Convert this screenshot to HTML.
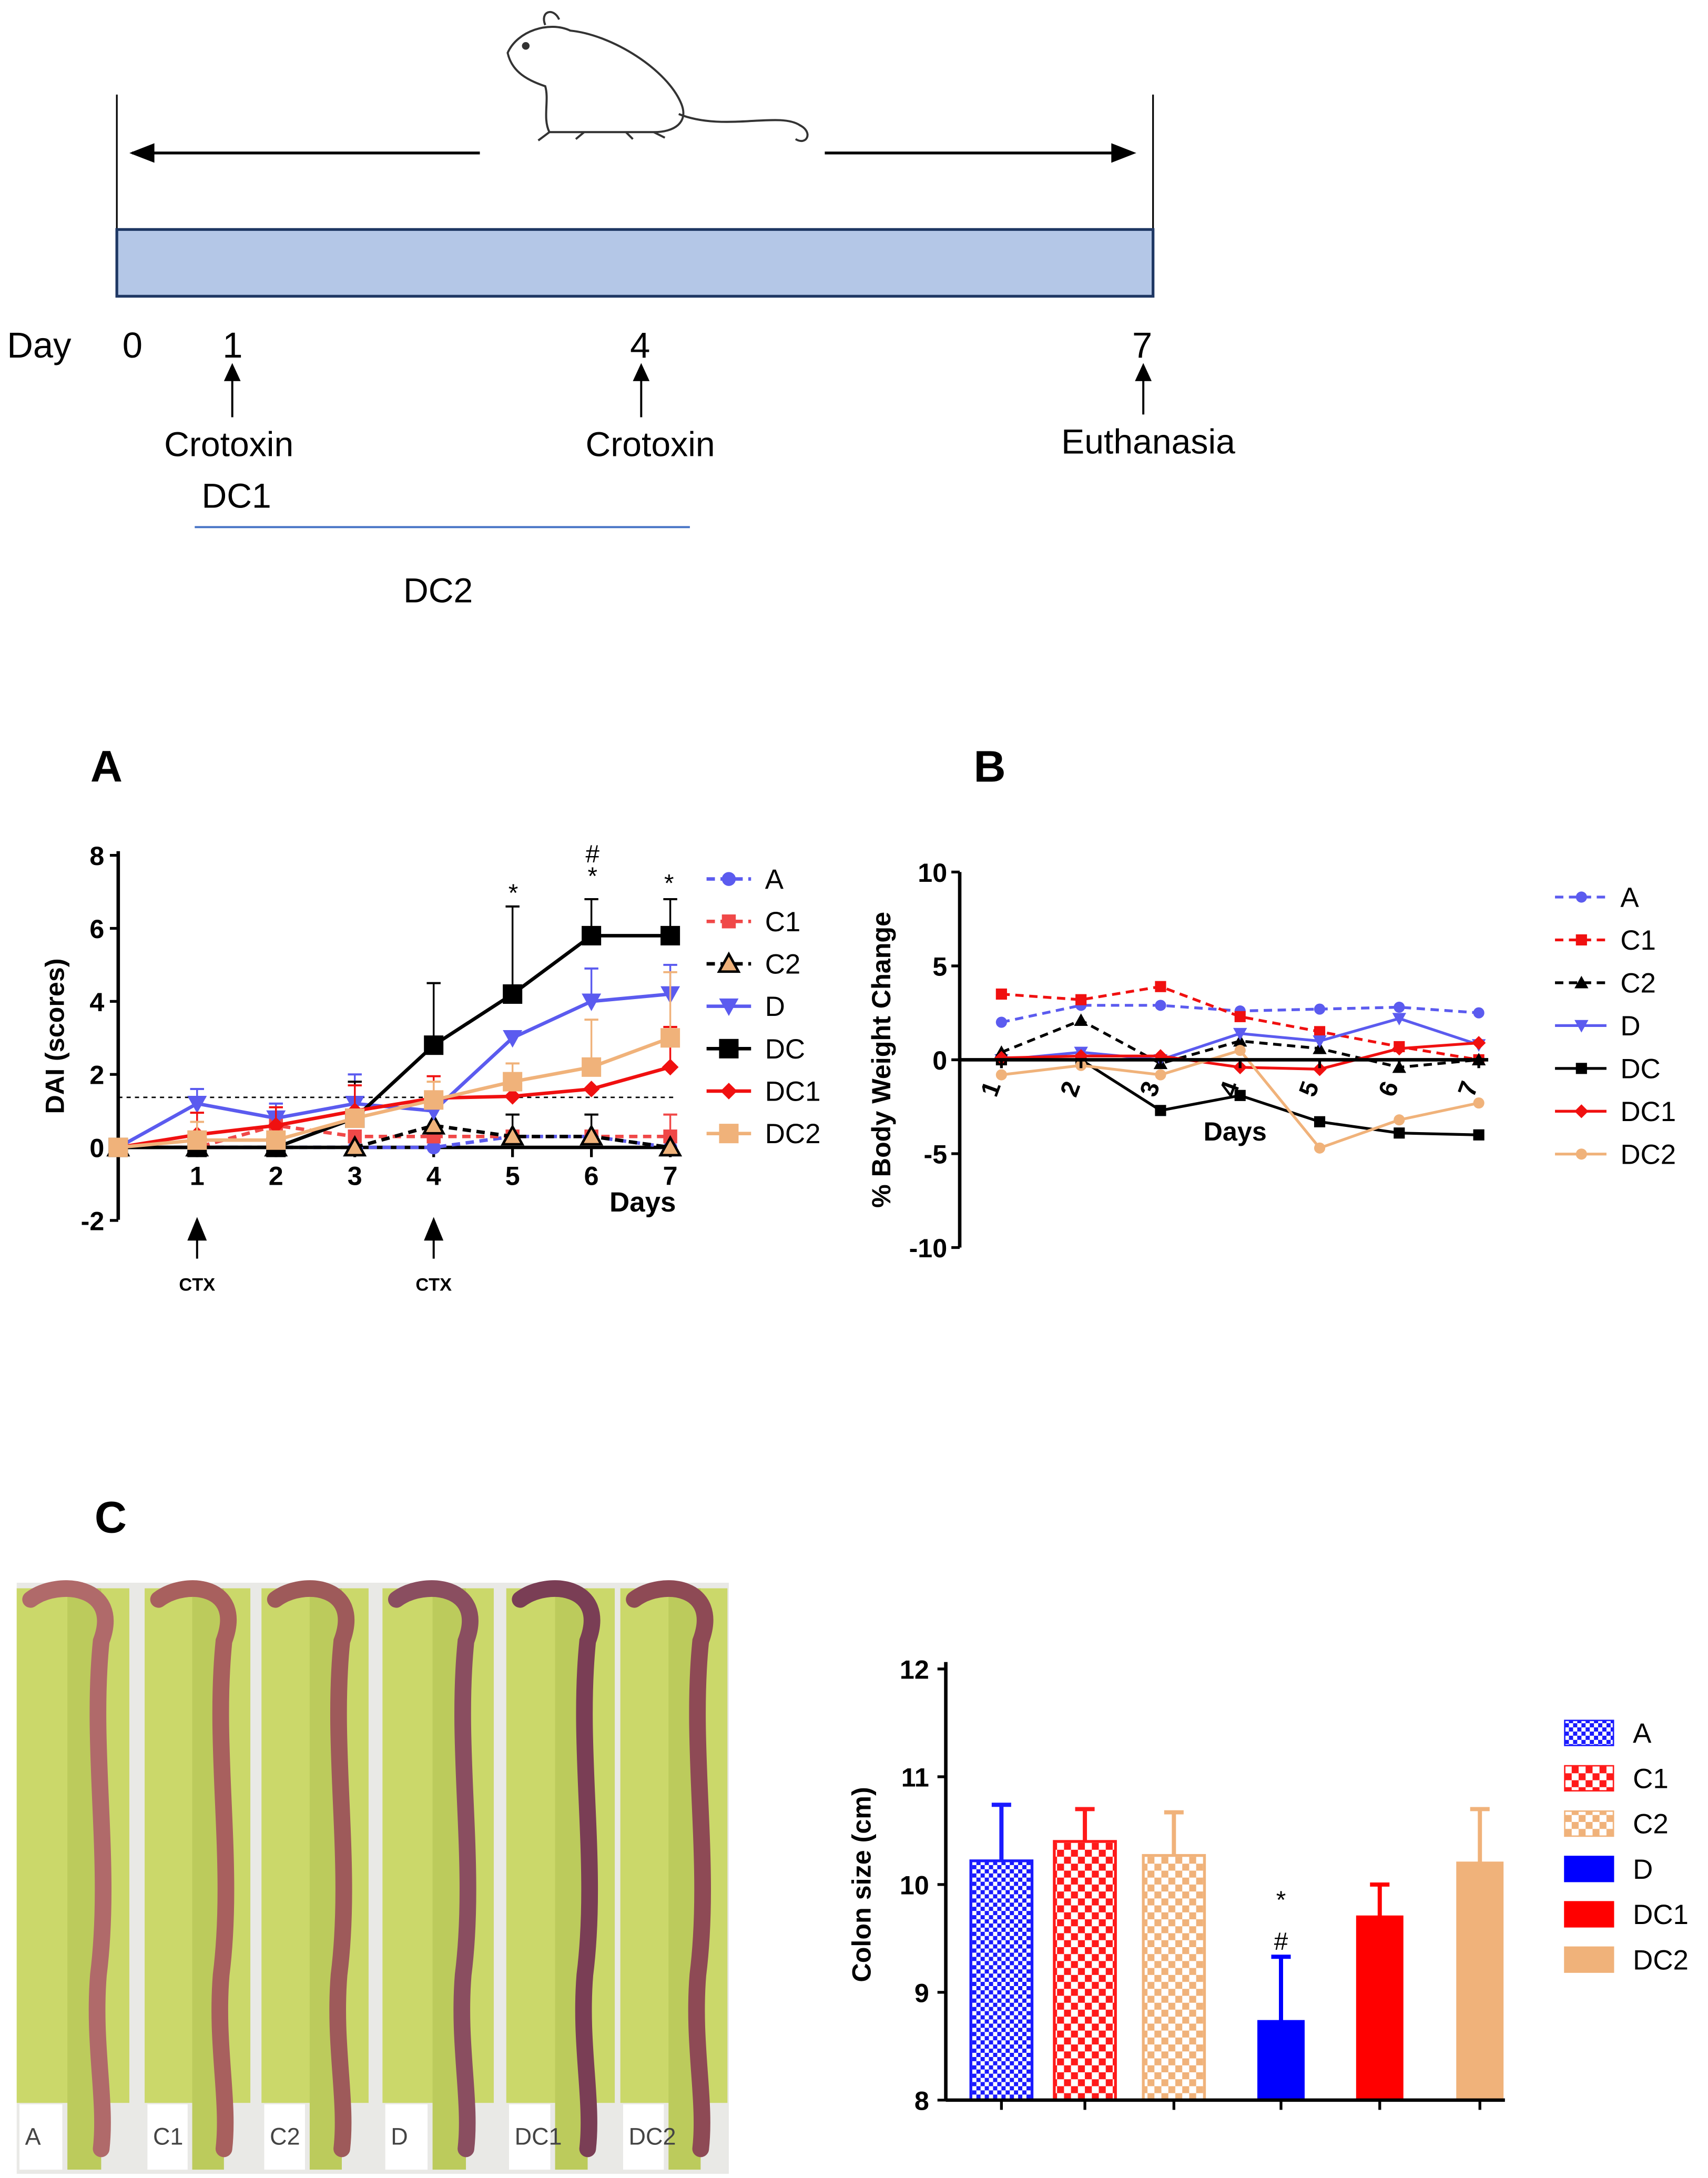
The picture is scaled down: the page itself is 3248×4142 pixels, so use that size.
<!DOCTYPE html>
<html><head><meta charset="utf-8"><style>
html,body{margin:0;padding:0;background:#fff;}
svg{display:block;font-family:"Liberation Sans",Arial,sans-serif;}
</style></head><body>
<svg id="fig" width="3248" height="4142" viewBox="0 0 1228 1566" xmlns="http://www.w3.org/2000/svg">
<defs>
<pattern id="pA" width="6" height="6" patternUnits="userSpaceOnUse"><rect width="6" height="6" fill="#fff"/><rect width="3" height="3" fill="#1a1aff"/><rect x="3" y="3" width="3" height="3" fill="#1a1aff"/></pattern>
<pattern id="pC1" width="10" height="10" patternUnits="userSpaceOnUse"><rect width="10" height="10" fill="#fff"/><rect width="5" height="5" fill="#ff1a1a"/><rect x="5" y="5" width="5" height="5" fill="#ff1a1a"/></pattern>
<pattern id="pC2" width="10" height="10" patternUnits="userSpaceOnUse"><rect width="10" height="10" fill="#fff"/><rect width="5" height="5" fill="#f0b27a"/><rect x="5" y="5" width="5" height="5" fill="#f0b27a"/></pattern>
<marker id="ah" markerWidth="10" markerHeight="10" refX="9" refY="5" orient="auto" markerUnits="userSpaceOnUse"><path d="M0,0 L10,5 L0,10 z" fill="#000"/></marker>
</defs>

<!-- Timeline -->
<g>
<line x1="84" y1="68" x2="84" y2="214" stroke="#000" stroke-width="1.2"/>
<line x1="829" y1="68" x2="829" y2="214" stroke="#000" stroke-width="1.2"/>
<line x1="345" y1="110" x2="95" y2="110" stroke="#000" stroke-width="2"/>
<path d="M93,110 l18,-7 v14z" fill="#000"/>
<line x1="593" y1="110" x2="800" y2="110" stroke="#000" stroke-width="2"/>
<path d="M817,110 l-18,-7 v14z" fill="#000"/>
<rect x="84" y="165" width="745" height="48" fill="#b4c7e7" stroke="#1f3864" stroke-width="2"/>
<g fill="none" stroke="#333" stroke-width="1.5">
<path d="M365,38 C372,22 395,15 410,22 C440,25 480,50 490,75 C495,88 485,95 470,95 L395,95 C390,85 395,72 392,62 C380,58 368,52 365,38z"/>
<path d="M392,18 C388,8 398,5 402,14"/>
<circle cx="378" cy="33" r="2" fill="#333"/>
<path d="M395,95 l-8,6 M420,95 l-6,5 M450,95 l5,5 M470,95 l8,4"/>
<path d="M488,82 C520,95 560,80 575,90 C585,95 580,105 572,100"/>
</g>
<text x="5" y="257" font-size="26" font-family="Liberation Sans,sans-serif">Day</text>
<text x="88" y="257" font-size="26">0</text>
<text x="160" y="257" font-size="26">1</text>
<text x="453" y="257" font-size="26">4</text>
<text x="814" y="257" font-size="26">7</text>
<line x1="167" y1="300" x2="167" y2="272" stroke="#000" stroke-width="1.5"/><path d="M167,261 l-6,13 h12z" fill="#000"/>
<line x1="461" y1="300" x2="461" y2="272" stroke="#000" stroke-width="1.5"/><path d="M461,261 l-6,13 h12z" fill="#000"/>
<line x1="822" y1="298" x2="822" y2="272" stroke="#000" stroke-width="1.5"/><path d="M822,261 l-6,13 h12z" fill="#000"/>
<text x="118" y="328" font-size="25">Crotoxin</text>
<text x="421" y="328" font-size="25">Crotoxin</text>
<text x="763" y="326" font-size="25">Euthanasia</text>
<text x="145" y="365" font-size="25">DC1</text>
<line x1="140" y1="379" x2="496" y2="379" stroke="#4472c4" stroke-width="1.5"/>
<text x="290" y="433" font-size="25">DC2</text>
</g>

<text x="65" y="562" font-size="32" font-weight="bold">A</text>
<text x="700" y="562" font-size="32" font-weight="bold">B</text>
<text x="68" y="1102" font-size="32" font-weight="bold">C</text>

<g id="chartA"></g>
<g id="chartB"></g>
<g id="photo"></g>
<g id="chartC"></g>
</svg>
<script>
const NS="http://www.w3.org/2000/svg";
function mk(parent,tag,attrs,text){const e=document.createElementNS(NS,tag);for(const k in attrs)e.setAttribute(k,attrs[k]);if(text!==undefined)e.textContent=text;parent.appendChild(e);return e;}

// ---------- Chart A data ----------
const daysA=[0,1,2,3,4,5,6,7];
const aA=[0,0,0,0,0,0.3,0.3,0];
const aC1=[0,0,0.6,0.3,0.3,0.3,0.3,0.3];
const aC2=[0,0,0,0,0.6,0.3,0.3,0];
const aD=[0,1.2,0.8,1.2,1.0,3.0,4.0,4.2];
const aDC=[0,0,0,0.8,2.8,4.2,5.8,5.8];
const aDC1=[0,0.35,0.6,1.0,1.35,1.4,1.6,2.2];
const aDC2=[0,0.2,0.2,0.8,1.3,1.8,2.2,3.0];
const errD=[0,0.4,0.4,0.8,0.3,0,0.9,0.8];
const errDC=[0,0,0,1.0,1.7,2.4,1.0,1.0];
const errDC1=[0,0.6,0.5,0.7,0.6,0,0,1.1];
const errDC2=[0,0.5,0,0,0.5,0.5,1.3,1.8];
const errC1=[0,0,0,0,0,0,0,0.6];
const errC2=[0,0,0,0,0,0.6,0.6,0];
const yTicksA=[8,6,4,2,0,-2];
const seriesNamesA=["A","C1","C2","D","DC","DC1","DC2"];

const xA=d=>85+d*56.7, yA=v=>825-v*26.25;
const gA=document.getElementById('chartA');
function marker(g,shape,x,y,s,fill,stroke){
  if(shape==='circle')return mk(g,'circle',{cx:x,cy:y,r:s,fill:fill});
  if(shape==='square')return mk(g,'rect',{x:x-s,y:y-s,width:2*s,height:2*s,fill:fill,stroke:stroke||'none'});
  if(shape==='tri')return mk(g,'path',{d:`M${x},${y-s} L${x+s},${y+s*0.8} L${x-s},${y+s*0.8}z`,fill:fill,stroke:stroke||'none','stroke-width':1.8});
  if(shape==='dtri')return mk(g,'path',{d:`M${x-s},${y-s*0.8} L${x+s},${y-s*0.8} L${x},${y+s}z`,fill:fill});
  if(shape==='diamond')return mk(g,'path',{d:`M${x},${y-s} L${x+s},${y} L${x},${y+s} L${x-s},${y}z`,fill:fill});
}
const stylesA=[
 {data:aA,col:'#5b5bef',dash:'6,4',shape:'circle',s:5,fill:'#5b5bef'},
 {data:aC1,col:'#f04848',dash:'6,4',shape:'square',s:5,fill:'#f04848',err:errC1},
 {data:aC2,col:'#000',dash:'6,4',shape:'tri',s:7,fill:'#f0b27a',stroke:'#000',err:errC2},
 {data:aD,col:'#5b5bef',dash:'',shape:'dtri',s:7,fill:'#5b5bef',err:errD},
 {data:aDC,col:'#000',dash:'',shape:'square',s:7,fill:'#000',err:errDC},
 {data:aDC1,col:'#f01010',dash:'',shape:'diamond',s:6,fill:'#f01010',err:errDC1},
 {data:aDC2,col:'#f0b27a',dash:'',shape:'square',s:7,fill:'#f0b27a',err:errDC2}
];
// axes
mk(gA,'line',{x1:85,y1:612,x2:85,y2:877,stroke:'#000','stroke-width':2.5});
mk(gA,'line',{x1:85,y1:825,x2:482,y2:825,stroke:'#000','stroke-width':2.5});
yTicksA.forEach(v=>{mk(gA,'line',{x1:79,y1:yA(v),x2:85,y2:yA(v),stroke:'#000','stroke-width':2});
 const t=mk(gA,'text',{x:75,y:yA(v)+7,'font-size':19,'font-weight':'bold','text-anchor':'end'},String(v));
 });
daysA.slice(1).forEach(d=>{mk(gA,'line',{x1:xA(d),y1:825,x2:xA(d),y2:832,stroke:'#000','stroke-width':2});
 const t=mk(gA,'text',{x:xA(d),y:852,'font-size':19,'font-weight':'bold','text-anchor':'middle'},String(d));
 });
let t=mk(gA,'text',{x:486,y:871,'font-size':20,'font-weight':'bold','text-anchor':'end'},'Days');

t=mk(gA,'text',{x:0,y:0,'font-size':19,'font-weight':'bold','text-anchor':'middle',transform:'translate(46,745) rotate(-90)'},'DAI (scores)');

mk(gA,'line',{x1:85,y1:789,x2:484,y2:789,stroke:'#000','stroke-width':1,'stroke-dasharray':'3,3'});
// CTX arrows
[1,4].forEach(d=>{mk(gA,'line',{x1:xA(d),y1:905,x2:xA(d),y2:888,stroke:'#000','stroke-width':1.5});
 mk(gA,'path',{d:`M${xA(d)},875 l-7,17 h14z`,fill:'#000'});
 const c=mk(gA,'text',{x:xA(d),y:928,'font-size':13,'font-weight':'bold','text-anchor':'middle'},'CTX');
 });
// series
stylesA.forEach((s,i)=>{
 const g=mk(gA,'g',{});
 
 
 if(s.err){s.data.forEach((v,j)=>{if(s.err[j]>0){mk(g,'line',{x1:xA(daysA[j]),y1:yA(v),x2:xA(daysA[j]),y2:yA(v+s.err[j]),stroke:s.col,'stroke-width':1.3});mk(g,'line',{x1:xA(daysA[j])-5,y1:yA(v+s.err[j]),x2:xA(daysA[j])+5,y2:yA(v+s.err[j]),stroke:s.col,'stroke-width':1.5});}});}
 mk(g,'polyline',{points:s.data.map((v,j)=>xA(daysA[j])+','+yA(v)).join(' '),fill:'none',stroke:s.col,'stroke-width':2.5,'stroke-dasharray':s.dash});
 s.data.forEach((v,j)=>{const m=marker(g,s.shape,xA(daysA[j]),yA(v),s.s,s.fill,s.stroke);});
 // legend
 const ly=632+i*30.5;
 const lg=mk(gA,'g',{});
 
 
 mk(lg,'line',{x1:508,y1:ly,x2:540,y2:ly,stroke:s.col,'stroke-width':2.5,'stroke-dasharray':s.dash});
 marker(lg,s.shape,524,ly,s.s,s.fill,s.stroke);
 mk(lg,'text',{x:550,y:ly+7,'font-size':20},seriesNamesA[i]);
});
[["*",369,648],["#",426,620],["*",426,636],["*",481,641]].forEach(a=>{const s=mk(gA,'text',{x:a[1],y:a[2],'font-size':18,'text-anchor':'middle'},a[0]);});

// ---------- Chart B data ----------
const daysB=[1,2,3,4,5,6,7];
const bA=[2.0,2.9,2.9,2.6,2.7,2.8,2.5];
const bC1=[3.5,3.2,3.9,2.3,1.5,0.7,0];
const bC2=[0.4,2.1,-0.2,1.0,0.6,-0.4,0];
const bD=[0,0.4,0,1.4,1.0,2.2,0.8];
const bDC=[0,0,-2.7,-1.9,-3.3,-3.9,-4.0];
const bDC1=[0.1,0.2,0.2,-0.4,-0.5,0.6,0.9];
const bDC2=[-0.8,-0.3,-0.8,0.5,-4.7,-3.2,-2.3];
const yTicksB=[10,5,0,-5,-10];
const seriesNamesB=["A","C1","C2","D","DC","DC1","DC2"];
const xB=d=>720+(d-1)*57.2, yB=v=>762-v*13.5;
const gB=document.getElementById('chartB');
const stylesB=[
 {data:bA,col:'#5b5bef',dash:'6,4',shape:'circle',s:4,fill:'#5b5bef'},
 {data:bC1,col:'#f01010',dash:'6,4',shape:'square',s:4,fill:'#f01010'},
 {data:bC2,col:'#000',dash:'6,4',shape:'tri',s:5,fill:'#000'},
 {data:bD,col:'#5b5bef',dash:'',shape:'dtri',s:5,fill:'#5b5bef'},
 {data:bDC,col:'#000',dash:'',shape:'square',s:4,fill:'#000'},
 {data:bDC1,col:'#f01010',dash:'',shape:'diamond',s:5,fill:'#f01010'},
 {data:bDC2,col:'#f0b27a',dash:'',shape:'circle',s:4,fill:'#f0b27a'}
];
mk(gB,'line',{x1:690,y1:627,x2:690,y2:897,stroke:'#000','stroke-width':2.5});
yTicksB.forEach(v=>{mk(gB,'line',{x1:684,y1:yB(v),x2:690,y2:yB(v),stroke:'#000','stroke-width':2});
 const s=mk(gB,'text',{x:681,y:yB(v)+7,'font-size':19,'font-weight':'bold','text-anchor':'end'},String(v));
 });
stylesB.forEach((s,i)=>{
 const g=mk(gB,'g',{});
 
 
 mk(g,'polyline',{points:s.data.map((v,j)=>xB(daysB[j])+','+yB(v)).join(' '),fill:'none',stroke:s.col,'stroke-width':2,'stroke-dasharray':s.dash});
 s.data.forEach((v,j)=>{const m=marker(g,s.shape,xB(daysB[j]),yB(v),s.s,s.fill);});
 const ly=645+i*30.8;
 const lg=mk(gB,'g',{});
 
 
 mk(lg,'line',{x1:1118,y1:ly,x2:1155,y2:ly,stroke:s.col,'stroke-width':2,'stroke-dasharray':s.dash});
 marker(lg,s.shape,1137,ly,s.s,s.fill);
 mk(lg,'text',{x:1165,y:ly+7,'font-size':20},seriesNamesB[i]);
});
mk(gB,'line',{x1:690,y1:762,x2:1070,y2:762,stroke:'#000','stroke-width':2.5});
daysB.forEach(d=>{mk(gB,'line',{x1:xB(d),y1:762,x2:xB(d),y2:768,stroke:'#000','stroke-width':2});
 const s=mk(gB,'text',{x:0,y:0,'font-size':18,'font-weight':'bold','text-anchor':'middle',transform:`translate(${xB(d)-2},785) rotate(-70)`},String(d));
 });
t=mk(gB,'text',{x:888,y:820,'font-size':19,'font-weight':'bold','text-anchor':'middle'},'Days');

t=mk(gB,'text',{x:0,y:0,'font-size':19,'font-weight':'bold','text-anchor':'middle',transform:'translate(640,762) rotate(-90)'},'% Body Weight Change');


// ---------- Photo ----------
const gP=document.getElementById('photo');
mk(gP,'rect',{x:12,y:1138,width:512,height:425,fill:'#e9e9e6'});
const strips=[[12,93],[104,180],[188,265],[275,355],[364,442],[446,523]];
const photoLabels=["A","C1","C2","D","DC1","DC2"];
const colonCols=['#b06a6a','#a8605e','#9e5a5a','#8a4e60','#7a3e55','#8e4a55'];
strips.forEach((s,i)=>{
 mk(gP,'rect',{x:s[0],y:1142,width:s[1]-s[0],height:370,fill:'#cbd86a'});
 mk(gP,'rect',{x:s[0]+(s[1]-s[0])*0.45,y:1142,width:(s[1]-s[0])*0.3,height:418,fill:'#bccb5c'});
 const cx=s[0]+(s[1]-s[0])*0.75;
 mk(gP,'path',{d:`M${s[0]+10},1150 C${s[0]+30},1135 ${cx+15},1140 ${cx},1180 C${cx-8},1260 ${cx+8},1340 ${cx-2},1420 C${cx-6},1470 ${cx+4},1510 ${cx},1545`,fill:'none',stroke:colonCols[i],'stroke-width':12,'stroke-linecap':'round'});
 mk(gP,'rect',{x:s[0]+2,y:1513,width:(s[1]-s[0])*0.38,height:47,fill:'#fff'});
 const l=mk(gP,'text',{x:s[0]+6,y:1542,'font-size':17,fill:'#444'},photoLabels[i]);
 
});

// ---------- Chart C data ----------
const groupsC=["A","C1","C2","D","DC1","DC2"];
const colonSize=[10.22,10.4,10.27,8.73,9.7,10.2];
const colonErr=[0.52,0.3,0.4,0.6,0.3,0.5];
const yTicksC=[12,11,10,9,8];
const fillsC=['url(#pA)','url(#pC1)','url(#pC2)','#0000ff','#ff0000','#f0b27a'];
const edgeC=['#1a1aff','#ff1a1a','#f0b27a','#0000ff','#ff0000','#f0b27a'];
const xC=i=>[720,780,844,921,992,1064][i];
const wC=i=>i<3?44:32;
const yC=v=>1510-(v-8)*77.5;
const gC=document.getElementById('chartC');
colonSize.forEach((v,i)=>{
 mk(gC,'line',{x1:xC(i),y1:yC(v),x2:xC(i),y2:yC(v+colonErr[i]),stroke:edgeC[i],'stroke-width':3});
 mk(gC,'line',{x1:xC(i)-7,y1:yC(v+colonErr[i]),x2:xC(i)+7,y2:yC(v+colonErr[i]),stroke:edgeC[i],'stroke-width':3});
 const b=mk(gC,'rect',{x:xC(i)-wC(i)/2,y:yC(v),width:wC(i),height:yC(8)-yC(v),fill:fillsC[i],stroke:edgeC[i],'stroke-width':2});
 
 
 mk(gC,'line',{x1:xC(i),y1:1510,x2:xC(i),y2:1517,stroke:'#000','stroke-width':2});
 const ly=1246+i*32.6;
 const lg=mk(gC,'g',{});
 
 
 mk(lg,'rect',{x:1125,y:ly-9,width:35,height:18,fill:fillsC[i],stroke:edgeC[i],'stroke-width':1});
 mk(lg,'text',{x:1174,y:ly+7,'font-size':20},groupsC[i]);
});
mk(gC,'line',{x1:680,y1:1195,x2:680,y2:1510,stroke:'#000','stroke-width':2.5});
mk(gC,'line',{x1:680,y1:1510,x2:1082,y2:1510,stroke:'#000','stroke-width':2.5});
yTicksC.forEach(v=>{mk(gC,'line',{x1:674,y1:yC(v),x2:680,y2:yC(v),stroke:'#000','stroke-width':2});
 const s=mk(gC,'text',{x:668,y:yC(v)+7,'font-size':19,'font-weight':'bold','text-anchor':'end'},String(v));
 });
t=mk(gC,'text',{x:0,y:0,'font-size':19,'font-weight':'bold','text-anchor':'middle',transform:'translate(626,1355) rotate(-90)'},'Colon size (cm)');

t=mk(gC,'text',{x:921,y:1372,'font-size':18,'text-anchor':'middle'},'*');

t=mk(gC,'text',{x:921,y:1402,'font-size':18,'text-anchor':'middle'},'#');

</script>
</body></html>
